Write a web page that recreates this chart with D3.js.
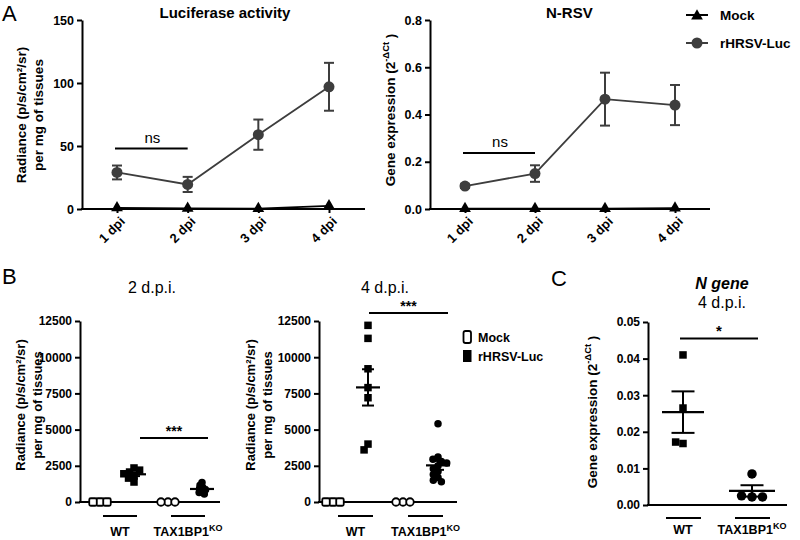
<!DOCTYPE html>
<html><head><meta charset="utf-8">
<script src="https://cdn.jsdelivr.net/npm/d3@7"></script>
<style>body{margin:0;background:#fff}svg{font-family:Arial,"Liberation Sans",Helvetica,sans-serif}</style>
</head><body><svg id="c" width="800" height="540"></svg>
<script>
// ---------- DATA ----------
const dpiLabels = ["1 dpi","2 dpi","3 dpi","4 dpi"];
const seriesNames = ["Mock","rHRSV-Luc"];
const lucMock = [1.0,0.6,0.3,2.5];
const lucInf = [29,19.5,59,97];
const lucInfSem = [5.5,6,12,19];
const lucTicks = [0,50,100,150];
const lucNsLevel = 48;
const nrsvMock = [0.002,0.002,0.002,0.004];
const nrsvInf = [0.097,0.15,0.465,0.44];
const nrsvInfSem = [0.008,0.035,0.112,0.085];
const nrsvTicks = [0,0.2,0.4,0.6,0.8];
const nrsvNsLevel = 0.237;

const genotypes = ["WT","TAX1BP1"];
const groupKeys = ["WT-Mock","WT-Luc","KO-Mock","KO-Luc"];
const d2WtMock = [0,0,0];
const d2WtLuc = [2350,2070,1800,2200,1950,1380,1650];
const d2KoMock = [0,0,0];
const d2KoLuc = [1350,1150,1000,900,850,750,650,550];
const d4WtMock = [0,0,0];
const d4WtLuc = [12200,11300,9200,7900,7200,4000,3600];
const d4KoMock = [0,0,0];
const d4KoLuc = [5400,3100,2950,2800,2700,2500,2300,2100,1900,1700,1500,1400];
const radianceTicks = [0,2500,5000,7500,10000,12500];
const d2SigLevel = 4420, d4SigLevel = 13050;

const nGeneWt = [0.041,0.0265,0.0168,0.0172];
const nGeneKo = [0.0085,0.0022,0.0025,0.0022];
const nGeneTicks = [0,0.01,0.02,0.03,0.04,0.05];
const nGeneSigLevel = 0.0455;

// ---------- HELPERS ----------
const svg = d3.select("#c");
const GRAY = "#3d3d3d";

function yAxis(scale, x, ticks, fmt, fs) {
  const ax = svg.append("g").attr("transform", `translate(${x},0)`)
    .call(d3.axisLeft(scale).tickValues(ticks).tickFormat(fmt).tickSize(5).tickSizeOuter(0).tickPadding(3));
  ax.select(".domain").attr("stroke","#000").attr("stroke-width",2);
  ax.selectAll(".tick line").attr("stroke","#000").attr("stroke-width",2);
  ax.selectAll(".tick text").attr("font-size",fs).attr("font-weight","bold").attr("fill","#000")
    .attr("font-family","Arial, 'Liberation Sans', sans-serif");
  return ax;
}
function hline(x1,x2,y,w,col){
  svg.append("line").attr("x1",x1).attr("x2",x2).attr("y1",y).attr("y2",y)
    .attr("stroke",col||"#000").attr("stroke-width",w||2);
}
function vline(x,y1,y2,w,col){
  svg.append("line").attr("x1",x).attr("x2",x).attr("y1",y1).attr("y2",y2)
    .attr("stroke",col||"#000").attr("stroke-width",w||2);
}
function text(x,y,str,opts){
  const t = svg.append("text").attr("x",x).attr("y",y).text(str)
    .attr("font-size",opts.fs||12).attr("font-weight",opts.fw||"normal")
    .attr("text-anchor",opts.anchor||"start").attr("fill","#000");
  if (opts.italic) t.attr("font-style","italic");
  return t;
}
function yLabel(x,cy,lines,fs){
  lines.forEach((ln,i)=>{
    const t = svg.append("text").attr("transform",`translate(${x+i*17},${cy}) rotate(-90)`)
      .attr("text-anchor","middle").attr("dy","0.35em").attr("font-size",fs).attr("font-weight","bold");
    if (typeof ln === "string") t.text(ln);
    else {
      t.append("tspan").text(ln[0]);
      t.append("tspan").text(ln[1]).attr("font-size",fs*0.7).attr("dy",-fs*0.45);
      t.append("tspan").text(ln[2]).attr("dy",fs*0.45);
    }
  });
}
function swarm(values, yS, d){
  const placed=[];
  return values.map(v=>{
    const y=yS(v), forb=[];
    placed.forEach(p=>{const dy=Math.abs(p.y-y); if(dy<d){const dx=Math.sqrt(d*d-dy*dy); forb.push([p.x-dx,p.x+dx]);}});
    const c=[0]; forb.forEach(f=>c.push(f[0],f[1]));
    c.sort((a,b)=>Math.abs(a)-Math.abs(b));
    const x=c.find(cc=>forb.every(f=>cc<=f[0]+1e-6||cc>=f[1]-1e-6));
    const p={x,y,v}; placed.push(p); return p;
  });
}
function marker(cx,cy,shape,filled,size){
  if(shape==="square"){
    svg.append("rect").attr("x",cx-size/2).attr("y",cy-size/2).attr("width",size).attr("height",size)
      .attr("rx",filled?0:1.5).attr("fill",filled?"#000":"#fff").attr("stroke","#000").attr("stroke-width",filled?0:1.8);
  } else {
    svg.append("circle").attr("cx",cx).attr("cy",cy).attr("r",size/2)
      .attr("fill",filled?"#000":"#fff").attr("stroke","#000").attr("stroke-width",filled?0:1.8);
  }
}
function meanSem(cx,vals,yS,mw,cw){
  const m=d3.mean(vals), s=(d3.deviation(vals)||0)/Math.sqrt(vals.length);
  vline(cx,yS(m-s),yS(m+s),2);
  hline(cx-cw/2,cx+cw/2,yS(m-s),2); hline(cx-cw/2,cx+cw/2,yS(m+s),2);
  hline(cx-mw/2,cx+mw/2,yS(m),2.2);
}

// ---------- PANEL A (line charts) ----------
function linePanel(o){
  const x=d3.scalePoint().domain(dpiLabels).range(o.xr);
  const y=d3.scaleLinear().domain(o.yd).range([209,20]);
  yAxis(y,o.ax,o.ticks,o.fmt,12.5);
  hline(o.ax-1,o.xEnd,209,2);
  const xa=svg.append("g").attr("transform","translate(0,209)")
    .call(d3.axisBottom(x).tickSize(4).tickSizeOuter(0).tickPadding(0));
  xa.select(".domain").remove();
  xa.selectAll(".tick line").attr("stroke","#000").attr("stroke-width",2);
  xa.selectAll(".tick text").attr("font-size",13).attr("font-weight","bold").attr("fill","#000")
    .attr("text-anchor","end").attr("y",0).attr("dy","0.35em").attr("transform","translate(5,10) rotate(-45)");
  o.inf.forEach((v,i)=>{
    const cx=x(dpiLabels[i]), e=o.sem[i];
    vline(cx,y(v-e),y(v+e),2,GRAY); hline(cx-5,cx+5,y(v-e),2,GRAY); hline(cx-5,cx+5,y(v+e),2,GRAY);
  });
  const ln=d3.line().x((d,i)=>x(dpiLabels[i])).y(d=>y(d));
  svg.append("path").attr("d",ln(o.inf)).attr("fill","none").attr("stroke",GRAY).attr("stroke-width",1.8);
  svg.append("path").attr("d",ln(o.mock)).attr("fill","none").attr("stroke","#000").attr("stroke-width",1.6);
  o.inf.forEach((v,i)=>svg.append("circle").attr("cx",x(dpiLabels[i])).attr("cy",y(v)).attr("r",5.5).attr("fill",GRAY));
  o.mock.forEach((v,i)=>svg.append("path").attr("d",d3.symbol(d3.symbolTriangle,60)())
    .attr("transform",`translate(${x(dpiLabels[i])},${y(v)})`).attr("fill","#000"));
  const ny=y(o.ns);
  hline(x(dpiLabels[0])-2,x(dpiLabels[1]),ny,2);
  text((x(dpiLabels[0])+x(dpiLabels[1]))/2,ny-6,"ns",{fs:15,anchor:"middle"});
  text(o.tx,18,o.title,{fs:15,fw:"bold",anchor:o.tanchor});
}
linePanel({xr:[117,329],yd:[0,150],ax:82,xEnd:365,ticks:lucTicks,fmt:d3.format("d"),
  inf:lucInf,sem:lucInfSem,mock:lucMock,ns:lucNsLevel,title:"Luciferase activity",tx:225,tanchor:"middle"});
linePanel({xr:[465,675],yd:[0,0.8],ax:430,xEnd:710,ticks:nrsvTicks,fmt:d3.format(".1f"),
  inf:nrsvInf,sem:nrsvInfSem,mock:nrsvMock,ns:nrsvNsLevel,title:"N-RSV",tx:546,tanchor:"start"});
yLabel(21,115,["Radiance (p/s/cm²/sr)","per mg of tissues"],13.5);
yLabel(390,110,[["Gene expression (2","-ΔCt"," )"]],13.5);
text(2,21,"A",{fs:22});
hline(686,708,15,2);
svg.append("path").attr("d",d3.symbol(d3.symbolTriangle,60)()).attr("transform","translate(697,16)").attr("fill","#000");
text(720,20,seriesNames[0],{fs:13.5,fw:"bold"});
hline(686,708,43,2,GRAY);
svg.append("circle").attr("cx",697).attr("cy",43).attr("r",5.5).attr("fill",GRAY);
text(720,48,seriesNames[1],{fs:13.5,fw:"bold"});

// ---------- PANEL B (scatter) ----------
function scatterPanel(o){
  const x=d3.scalePoint().domain(groupKeys).range(o.xr);
  const y=d3.scaleLinear().domain([0,12500]).range([502,321]);
  hline(o.ax-1,o.xEnd,502,2);
  yAxis(y,o.ax,radianceTicks,d3.format("d"),12);
  const groups=[[o.wm,"square",false,7],[o.wl,"square",true,o.wd],[o.km,"circle",false,7],[o.kl,"circle",true,o.kd]];
  groups.forEach((g,gi)=>{
    const cx=x(groupKeys[gi]); const sz=g[1]==="square"?7.5:7.5;
    swarm(g[0],y,g[3]).forEach(p=>marker(cx+p.x,p.y,g[1],g[2],sz));
  });
  groups.forEach((g,gi)=>{ if(g[2]) meanSem(x(groupKeys[gi]),g[0],y,24,12); });
  const wA=x(groupKeys[0])+o.us, wB=x(groupKeys[1])+o.us, kA=x(groupKeys[2])+o.us, kB=x(groupKeys[3])+o.us;
  hline(wA,wB,516,2); hline(kA,kB,516,2);
  text((wA+wB)/2,536,genotypes[0],{fs:12.5,fw:"bold",anchor:"middle"});
  const t=text((kA+kB)/2,536,genotypes[1],{fs:12.5,fw:"bold",anchor:"middle"});
  t.append("tspan").text("KO").attr("font-size",9).attr("dy",-5);
  const sy=y(o.sig);
  hline(x(groupKeys[1])+o.s1,x(groupKeys[3])+o.s2,sy,2);
  text((x(groupKeys[1])+o.s1+x(groupKeys[3])+o.s2)/2,sy-2,"***",{fs:14,fw:"bold",anchor:"middle"});
  text(o.tx,293,o.title,{fs:16,anchor:"middle"});
}
scatterPanel({xr:[100,202],ax:80,xEnd:220,wm:d2WtMock,wl:d2WtLuc,km:d2KoMock,kl:d2KoLuc,wd:6,kd:3.5,
  us:3,sig:d2SigLevel,s1:6,s2:6,title:"2 d.p.i.",tx:152});
scatterPanel({xr:[333,438],ax:319,xEnd:457,wm:d4WtMock,wl:d4WtLuc,km:d4KoMock,kl:d4KoLuc,wd:7,kd:5.5,
  us:5,sig:d4SigLevel,s1:1,s2:10,title:"4 d.p.i.",tx:385});
yLabel(20,405,["Radiance (p/s/cm²/sr)","per mg of tissues"],13);
yLabel(250,405,["Radiance (p/s/cm²/sr)","per mg of tissues"],13);
text(2,284,"B",{fs:22});
svg.append("rect").attr("x",463.5).attr("y",331).attr("width",7.5).attr("height",12).attr("rx",2)
  .attr("fill","#fff").attr("stroke","#000").attr("stroke-width",1.8);
svg.append("rect").attr("x",463).attr("y",350).attr("width",8.5).attr("height",12).attr("fill","#000");
text(478,342,seriesNames[0],{fs:12.5,fw:"bold"});
text(478,361,seriesNames[1],{fs:12.5,fw:"bold"});

// ---------- PANEL C ----------
(function(){
  const x=d3.scalePoint().domain(genotypes).range([683,752]);
  const y=d3.scaleLinear().domain([0,0.05]).range([505,322]);
  hline(647,787,505,2);
  yAxis(y,648,nGeneTicks,d3.format(".2f"),12);
  swarm(nGeneWt,y,7.5).forEach(p=>marker(x("WT")+p.x,p.y,"square",true,7.5));
  swarm(nGeneKo,y,10.5).forEach(p=>marker(x("TAX1BP1")+p.x,p.y,"circle",true,9.5));
  meanSem(x("WT"),nGeneWt,y,42,23);
  meanSem(x("TAX1BP1"),nGeneKo,y,46,23);
  genotypes.forEach((g,i)=>{
    const cx=x(g); hline(cx-17,cx+18,518,2);
    const t=text(cx,534,g,{fs:12.5,fw:"bold",anchor:"middle"});
    if(i===1) t.append("tspan").text("KO").attr("font-size",9).attr("dy",-5);
  });
  const sy=y(nGeneSigLevel);
  hline(x("WT")-3,x("TAX1BP1")+6,sy,2);
  text((x("WT")+x("TAX1BP1")+3)/2,sy-2,"*",{fs:15,fw:"bold",anchor:"middle"});
  text(722,289,"N gene",{fs:16,fw:"bold",anchor:"middle",italic:true});
  text(722,308,"4 d.p.i.",{fs:16,anchor:"middle"});
  yLabel(592,412,[["Gene expression (2","-ΔCt"," )"]],13.5);
  text(551,286,"C",{fs:22});
})();
</script></body></html>
